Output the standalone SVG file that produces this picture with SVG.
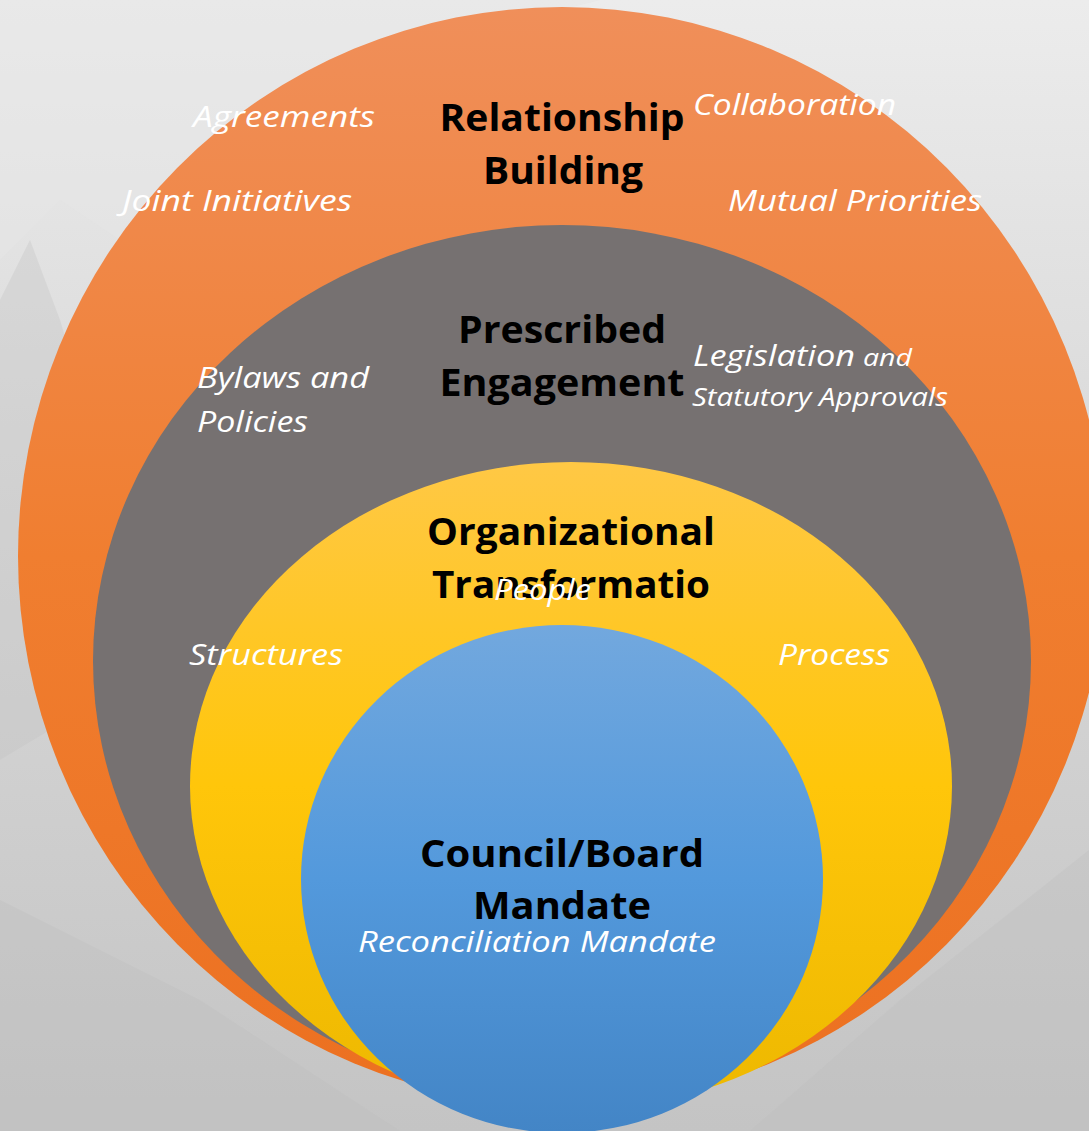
<svg xmlns="http://www.w3.org/2000/svg" width="1089" height="1131" viewBox="0 0 1089 1131">
<defs>
<linearGradient id="bg" x1="0" y1="0" x2="0" y2="1">
<stop offset="0" stop-color="#ECECEC"/>
<stop offset="0.4" stop-color="#DADADA"/>
<stop offset="1" stop-color="#C4C4C4"/>
</linearGradient>
<linearGradient id="gOrange" x1="0" y1="0" x2="0" y2="1">
<stop offset="0" stop-color="#F08F5A"/>
<stop offset="0.5" stop-color="#F07E30"/>
<stop offset="1" stop-color="#EC7020"/>
</linearGradient>
<linearGradient id="gYellow" x1="0" y1="0" x2="0" y2="1">
<stop offset="0" stop-color="#FFC845"/>
<stop offset="0.5" stop-color="#FFC60A"/>
<stop offset="1" stop-color="#EDB800"/>
</linearGradient>
<linearGradient id="gBlue" x1="0" y1="0" x2="0" y2="1">
<stop offset="0" stop-color="#72A8DE"/>
<stop offset="0.5" stop-color="#5399DC"/>
<stop offset="1" stop-color="#4385C6"/>
</linearGradient>
<style>
.h{font-family:"Open Sans","Liberation Sans",sans-serif;font-weight:bold;font-size:38px;fill:#000;text-anchor:middle}
.i{font-family:"Open Sans","Liberation Sans",sans-serif;font-style:italic;font-size:29px;fill:#fff}
</style>
</defs>
<g id="background">
<rect width="1089" height="1131" fill="url(#bg)"/>
<path d="M0 260 L60 200 L120 240 L200 150 L300 120 L420 60 L520 20 L600 0 L0 0 Z" fill="#E6E6E6" opacity="0.5"/>
<path d="M0 300 L30 240 L60 320 L90 420 L100 700 L0 760 Z" fill="#C4C4C4" opacity="0.35"/>
<path d="M0 900 L200 1000 L400 1131 L0 1131 Z" fill="#BCBCBC" opacity="0.3"/>
<path d="M1089 850 L900 1000 L750 1131 L1089 1131 Z" fill="#BEBEBE" opacity="0.3"/>
</g>
<g id="relationship-building">
<ellipse cx="562" cy="556" rx="544" ry="549" fill="url(#gOrange)"/>
<text class="h" x="562" y="131" textLength="245" lengthAdjust="spacingAndGlyphs">Relationship</text>
<text class="h" x="563" y="184" textLength="160" lengthAdjust="spacingAndGlyphs">Building</text>
<text class="i" x="193" y="127" textLength="182" lengthAdjust="spacingAndGlyphs">Agreements</text>
<text class="i" x="693" y="115" textLength="203" lengthAdjust="spacingAndGlyphs">Collaboration</text>
<text class="i" x="122" y="211" textLength="230" lengthAdjust="spacingAndGlyphs">Joint Initiatives</text>
<text class="i" x="728" y="211" textLength="254" lengthAdjust="spacingAndGlyphs">Mutual Priorities</text>
</g>
<g id="prescribed-engagement">
<ellipse cx="562" cy="661" rx="469" ry="436" fill="#767171"/>
<text class="h" x="562" y="343" textLength="208" lengthAdjust="spacingAndGlyphs">Prescribed</text>
<text class="h" x="562" y="396" textLength="245" lengthAdjust="spacingAndGlyphs">Engagement</text>
<text class="i" x="197" y="388" textLength="172" lengthAdjust="spacingAndGlyphs">Bylaws and</text>
<text class="i" x="197" y="432" textLength="111" lengthAdjust="spacingAndGlyphs">Policies</text>
<text class="i" x="693" y="366" textLength="162" lengthAdjust="spacingAndGlyphs">Legislation</text>
<text class="i" x="863" y="366" style="font-size:23px" textLength="49" lengthAdjust="spacingAndGlyphs">and</text>
<text class="i" x="692" y="406" style="font-size:26px" textLength="256" lengthAdjust="spacingAndGlyphs">Statutory Approvals</text>
</g>
<g id="organizational-transformation">
<ellipse cx="571" cy="786" rx="381" ry="324" fill="url(#gYellow)"/>
<text class="h" x="571" y="545" textLength="288" lengthAdjust="spacingAndGlyphs">Organizational</text>
<text class="h" x="571" y="598" textLength="278" lengthAdjust="spacingAndGlyphs">Transformatio</text>
<text class="i" x="494" y="600" textLength="97" lengthAdjust="spacingAndGlyphs">People</text>
<text class="i" x="189" y="665" textLength="154" lengthAdjust="spacingAndGlyphs">Structures</text>
<text class="i" x="778" y="665" textLength="112" lengthAdjust="spacingAndGlyphs">Process</text>
</g>
<g id="council-board-mandate">
<ellipse cx="562" cy="879" rx="261" ry="254" fill="url(#gBlue)"/>
<text class="h" x="562" y="867" textLength="284" lengthAdjust="spacingAndGlyphs">Council/Board</text>
<text class="h" x="562" y="919" textLength="178" lengthAdjust="spacingAndGlyphs">Mandate</text>
<text class="i" x="358" y="952" textLength="358" lengthAdjust="spacingAndGlyphs">Reconciliation Mandate</text>
</g>
</svg>
